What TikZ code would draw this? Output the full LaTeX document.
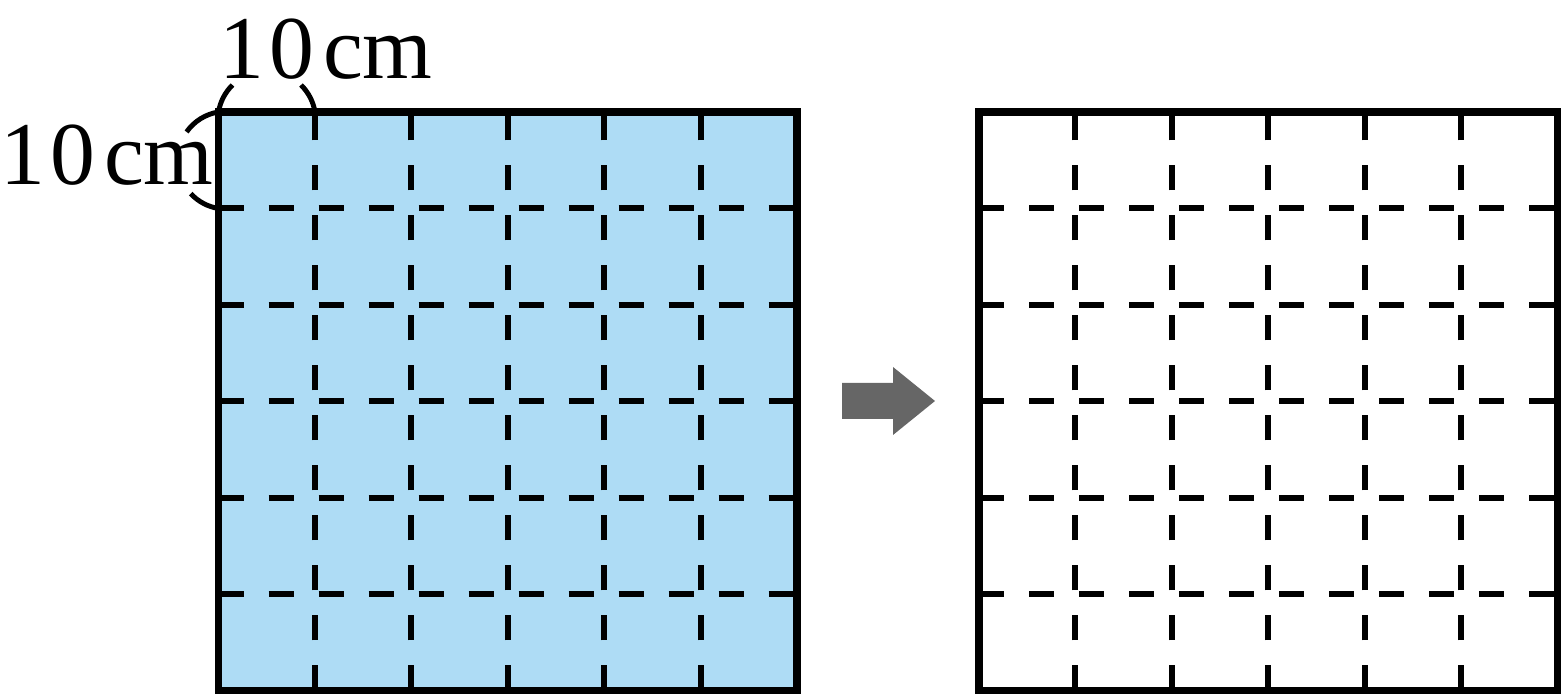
\documentclass[tikz,border=0pt]{standalone}
\usepackage{fontspec}
\setmainfont{Liberation Serif}
\definecolor{sqblue}{RGB}{174,220,245}
\definecolor{arrowgray}{RGB}{102,102,102}
\begin{document}
\begin{tikzpicture}[x=0.01cm,y=-0.01cm,
  border/.style={line width=2.15pt},
  gridline/.style={line width=1.7pt, dash pattern=on 7.11pt off 7.11pt},
  dimarc/.style={line width=1.4pt},
  lbl/.style={font=\fontsize{25.5}{30}\selectfont, anchor=base, inner sep=0pt}]
\useasboundingbox (0,0) rectangle (1562,695);
% left square
\fill[sqblue] (218.5,112) rectangle (797,690.5);
\foreach \i in {1,...,5} {
  \draw[gridline] ({218.5+96.42*\i},690.5) -- ({218.5+96.42*\i},112);
  \draw[gridline] (218.5,{112+96.42*\i}) -- (797,{112+96.42*\i});
}
\draw[border] (218.5,112) rectangle (797,690.5);
% right square
\foreach \i in {1,...,5} {
  \draw[gridline] ({979+96.42*\i},690.5) -- ({979+96.42*\i},112);
  \draw[gridline] (979,{112+96.42*\i}) -- (1557.5,{112+96.42*\i});
}
\draw[border] (979,112) rectangle (1557.5,690.5);
% arrow
\fill[arrowgray] (842,383) -- (893,383) -- (893,367) -- (935,401) -- (893,435) -- (893,419) -- (842,419) -- cycle;
% dimension labels
\node[lbl] (toplbl) at (326,78.5) {1\kern1.5pt 0\kern2.5pt cm};
\node[lbl] (leftlbl) at (107,184.5) {1\kern1.5pt 0\kern2.5pt cm};
\coordinate (c0) at (218.5,112);
\coordinate (c1) at (315,112);
\coordinate (c2) at (218.5,208.5);
\draw[dimarc] (c0) arc[start angle=189.4, end angle=225.4, radius=49.2];
\draw[dimarc] (c1) arc[start angle=350.6, end angle=314.6, radius=49.2];
\draw[dimarc] (c0) arc[start angle=260.8, end angle=215.2, radius=48.6];
\draw[dimarc] (c2) arc[start angle=99.2, end angle=137.1, radius=48.6];
\end{tikzpicture}
\end{document}
